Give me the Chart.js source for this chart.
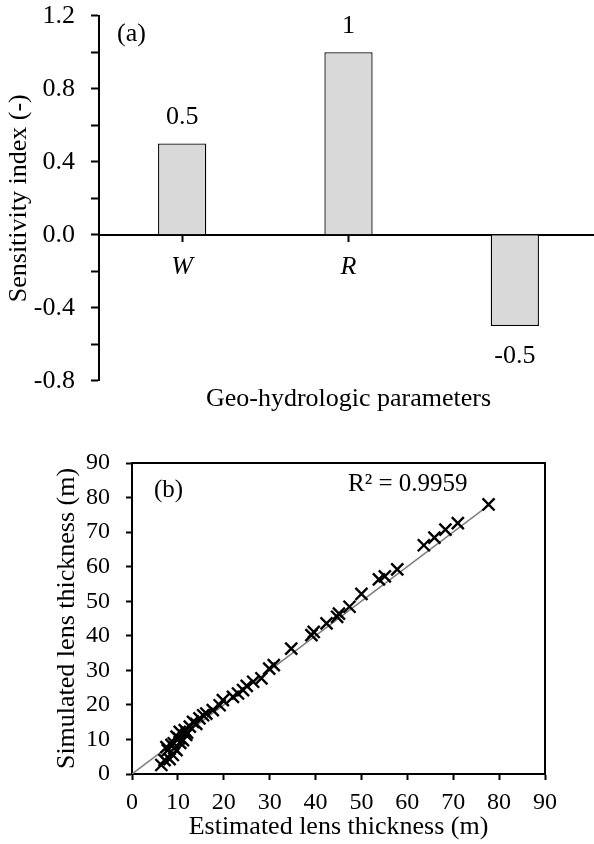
<!DOCTYPE html>
<html><head><meta charset="utf-8">
<script src="https://cdn.jsdelivr.net/npm/chart.js@4.4.1/dist/chart.umd.min.js"></script>
<style>
html,body{margin:0;padding:0;background:#fff;overflow:hidden;width:594px;height:844px;}
#wrapA{position:absolute;left:0;top:0;width:598px;height:420px;}
#wrapB{position:absolute;left:0;top:420px;width:594px;height:424px;}
canvas{display:block;}
</style></head><body>
<div id="wrapA"><canvas id="cA" width="598" height="420"></canvas></div>
<div id="wrapB"><canvas id="cB" width="594" height="424"></canvas></div>
<script>
// ---- Data (a) ----
const parameters = ['W', 'R', 'K'];
const sensitivity = [0.5, 1, -0.5];
const sensitivityLabels = ['0.5', '1', '-0.5'];

// ---- Data (b) ----
const estimated = [77.7, 71.0, 68.3, 65.9, 63.6, 57.8, 55.1, 53.8, 50.0, 47.4, 45.1, 44.7, 42.4, 39.6, 39.1,
  34.7, 30.9, 29.9, 28.2, 26.4, 25.0, 24.2, 23.1, 22.0, 19.8, 19.1, 17.6, 16.2, 15.5, 14.7, 14.0, 13.3, 12.6,
  12.0, 11.5, 10.4, 11.8, 9.7, 11.1, 10.5, 10.2, 8.6, 9.1, 9.7, 7.8, 7.5, 8.9, 9.2, 7.1, 8.2, 6.4];
const simulated = [78.0, 72.6, 70.7, 68.4, 66.2, 59.2, 57.2, 56.3, 52.1, 48.4, 46.4, 45.5, 43.6, 41.1, 40.2,
  36.3, 31.5, 30.5, 27.7, 26.7, 25.5, 24.3, 23.3, 22.3, 21.4, 19.9, 18.5, 17.5, 17.0, 16.1, 14.5, 15.1, 13.7,
  12.0, 12.7, 12.2, 11.3, 10.8, 9.8, 9.0, 10.3, 8.4, 8.9, 6.9, 6.9, 7.8, 5.5, 7.5, 4.0, 4.3, 2.6];
const trendX = [0, 78];
const trendY = [0, 78];
const r2Text = 'R\u00B2 = 0.9959';

const serif = "'Liberation Serif','Times New Roman',serif";
Chart.defaults.font.family = serif;
Chart.defaults.color = '#000';

// ---- Chart (a) ----
const barLabelPlugin = {
  id: 'barLabels',
  afterDatasetsDraw(chart) {
    const ctx = chart.ctx;
    const meta = chart.getDatasetMeta(0);
    ctx.save();
    ctx.font = '26px ' + serif;
    ctx.fillStyle = '#000';
    ctx.textAlign = 'center';
    ctx.textBaseline = 'middle';
    meta.data.forEach((bar, i) => {
      const v = sensitivity[i];
      const y = v >= 0 ? bar.y - 26 : bar.y + 30;
      ctx.fillText(sensitivityLabels[i], bar.x, y);
    });
    ctx.textAlign = 'left';
    ctx.fillText('(a)', chart.chartArea.left + 18, chart.chartArea.top + 18);
    ctx.restore();
  }
};

new Chart(document.getElementById('cA'), {
  type: 'bar',
  data: {
    labels: parameters,
    datasets: [{
      data: sensitivity,
      backgroundColor: '#d9d9d9',
      borderColor: '#000',
      borderWidth: 1.3,
      barPercentage: 0.29,
      categoryPercentage: 1
    }]
  },
  options: {
    responsive: false,
    animation: false,
    devicePixelRatio: 1,
    layout: { padding: { top: 15.7, left: 0, right: 0, bottom: 2 } },
    plugins: {
      legend: { display: false },
      tooltip: { enabled: false },
      title: {
        display: true, position: 'bottom', fullSize: false,
        text: 'Geo-hydrologic parameters',
        font: { size: 26, weight: 'normal', family: serif },
        color: '#000', padding: { top: 3, bottom: 3 }
      }
    },
    scales: {
      x: {
        type: 'category',
        position: { y: 0 },
        offset: true,
        grid: { offset: false, drawOnChartArea: false, tickLength: 6, tickColor: '#000', tickWidth: 2 },
        border: { color: '#000', width: 2 },
        ticks: { font: { size: 26, style: 'italic' }, color: '#000', padding: 11 }
      },
      y: {
        min: -0.8, max: 1.2,
        ticks: {
          stepSize: 0.2, font: { size: 26 }, color: '#000', padding: 16,
          callback: (v) => {
            const r = v / 0.4;
            if (Math.abs(r - Math.round(r)) > 1e-6) return '';
            if (Math.abs(v) < 1e-9) return '0.0';
            return v.toFixed(1);
          }
        },
        grid: { drawOnChartArea: false, tickLength: 8, tickColor: '#000', tickWidth: 2 },
        border: { color: '#000', width: 2 },
        title: { display: true, text: 'Sensitivity index (-)', font: { size: 26 }, color: '#000', padding: { top: 4, bottom: 0 } },
        afterFit(s) { s.width = 99; s.paddingTop = 0; s.paddingBottom = 0; }
      }
    }
  },
  plugins: [barLabelPlugin]
});

// ---- Chart (b) ----
const framePlugin = {
  id: 'frame',
  afterDraw(chart) {
    const a = chart.chartArea;
    const ctx = chart.ctx;
    ctx.save();
    ctx.strokeStyle = '#000';
    ctx.lineWidth = 2;
    ctx.beginPath();
    ctx.moveTo(a.left, a.top);
    ctx.lineTo(a.right, a.top);
    ctx.lineTo(a.right, a.bottom);
    ctx.stroke();
    ctx.fillStyle = '#000';
    ctx.font = '25px ' + serif;
    ctx.textBaseline = 'middle';
    ctx.textAlign = 'left';
    ctx.fillText('(b)', a.left + 22, a.top + 27);
    ctx.fillText(r2Text, a.left + 216, a.top + 21);
    ctx.restore();
  }
};

new Chart(document.getElementById('cB'), {
  type: 'scatter',
  data: {
    datasets: [
      {
        type: 'line',
        data: trendX.map((x, i) => ({ x: x, y: trendY[i] })),
        borderColor: '#7f7f7f', borderWidth: 1.5, pointRadius: 0, fill: false, order: 2
      },
      {
        data: estimated.map((x, i) => ({ x: x, y: simulated[i] })),
        pointStyle: 'crossRot', pointRadius: 8.5, pointBorderWidth: 2.4,
        borderColor: '#000', backgroundColor: '#000', order: 1
      }
    ]
  },
  options: {
    responsive: false,
    animation: false,
    devicePixelRatio: 1,
    layout: { padding: { top: 43, left: 0, right: 49, bottom: 0 } },
    plugins: { legend: { display: false }, tooltip: { enabled: false } },
    scales: {
      x: {
        type: 'linear', min: 0, max: 90,
        ticks: { stepSize: 10, font: { size: 24 }, color: '#000', padding: 8 },
        grid: { drawOnChartArea: false, tickLength: 6, tickColor: '#000', tickWidth: 2 },
        border: { color: '#000', width: 2 },
        title: { display: true, text: 'Estimated lens thickness (m)', font: { size: 26 }, color: '#000', padding: { top: 0, bottom: 1 } },
        afterFit(s) { s.height = 70; }
      },
      y: {
        type: 'linear', min: 0, max: 90,
        ticks: { stepSize: 10, font: { size: 24 }, color: '#000', padding: 16 },
        grid: { drawOnChartArea: false, tickLength: 6, tickColor: '#000', tickWidth: 2 },
        border: { color: '#000', width: 2 },
        title: { display: true, text: 'Simulated lens thickness (m)', font: { size: 26 }, color: '#000', padding: { top: 52, bottom: 0 } },
        afterFit(s) { s.width = 132; }
      }
    }
  },
  plugins: [framePlugin]
});
</script>
</body></html>
